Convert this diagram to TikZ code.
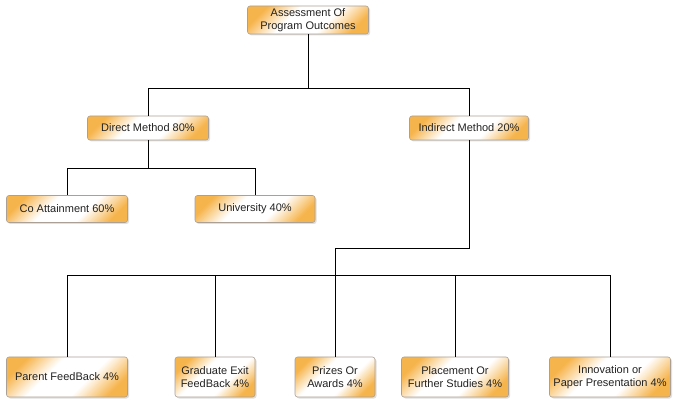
\documentclass[tikz,border=0pt]{standalone}
\usepackage{fontspec}
\setmainfont{Liberation Sans}
\usetikzlibrary{shadows}
\definecolor{boxorange}{RGB}{246,180,76}
\definecolor{boxline}{RGB}{170,160,150}
\definecolor{boxtext}{RGB}{35,35,35}
\pgfdeclareverticalshading{boxfade}{100bp}{color(0bp)=(boxorange); color(24bp)=(boxorange);
  color(40bp)=(white); color(60bp)=(white); color(76bp)=(boxorange); color(100bp)=(boxorange)}
\begin{document}
\begin{tikzpicture}[x=1pt,y=-1pt]
\tikzset{
  outcome/.style={draw=boxline, rounded corners=2.5pt, line width=0.6pt,
    shading=boxfade, shading angle=45, text=boxtext, align=center, inner sep=0pt,
    font=\fontsize{11}{13}\selectfont,
    drop shadow={shadow xshift=1.5pt, shadow yshift=-1.5pt, opacity=0.25}},
  link/.style={black, line width=0.8pt}
}
\useasboundingbox (0,0) rectangle (683,403);
% top level
\node [outcome, minimum width=121pt, minimum height=28pt] (assess) at (308,20) {Assessment Of\\Program Outcomes};
\node [outcome, minimum width=121pt, minimum height=24pt] (direct) at (148,128) {Direct Method 80\%};
\node [outcome, minimum width=119pt, minimum height=24pt] (indirect) at (469,128) {Indirect Method 20\%};
% direct branch
\node [outcome, minimum width=121pt, minimum height=27pt] (coatt) at (67,209) {Co Attainment 60\%};
\node [outcome, minimum width=120pt, minimum height=27pt] (univ) at (255,209) {University 40\%};
% indirect branch
\node [outcome, minimum width=121pt, minimum height=40pt] (parent) at (67,377) {Parent FeedBack 4\%};
\node [outcome, minimum width=80pt, minimum height=40pt] (grad) at (215,377) {Graduate Exit\\FeedBack 4\%};
\node [outcome, minimum width=80pt, minimum height=40pt] (prizes) at (335,377) {Prizes Or\\Awards 4\%};
\node [outcome, minimum width=107pt, minimum height=40pt] (placement) at (455,377) {Placement Or\\Further Studies 4\%};
\node [outcome, minimum width=121pt, minimum height=40pt] (innov) at (610,377) {Innovation or\\Paper Presentation 4\%};
% junctions
\coordinate (jroot) at (308,88);
\coordinate (jdirect) at (148,168);
\coordinate (jind) at (335,248);
\coordinate (jbus) at (335,275);
% connectors
\draw [link] (assess.south) -- (jroot);
\draw [link] (jroot) -| (direct.north);
\draw [link] (jroot) -| (indirect.north);
\draw [link] (direct.south) -- (jdirect);
\draw [link] (jdirect) -| (coatt.north);
\draw [link] (jdirect) -| (univ.north);
\draw [link] (indirect.south) |- (jind) -- (jbus);
\draw [link] (jbus) -| (parent.north);
\draw [link] (jbus) -| (grad.north);
\draw [link] (jbus) -- (prizes.north);
\draw [link] (jbus) -| (placement.north);
\draw [link] (jbus) -| (innov.north);
\end{tikzpicture}
\end{document}
